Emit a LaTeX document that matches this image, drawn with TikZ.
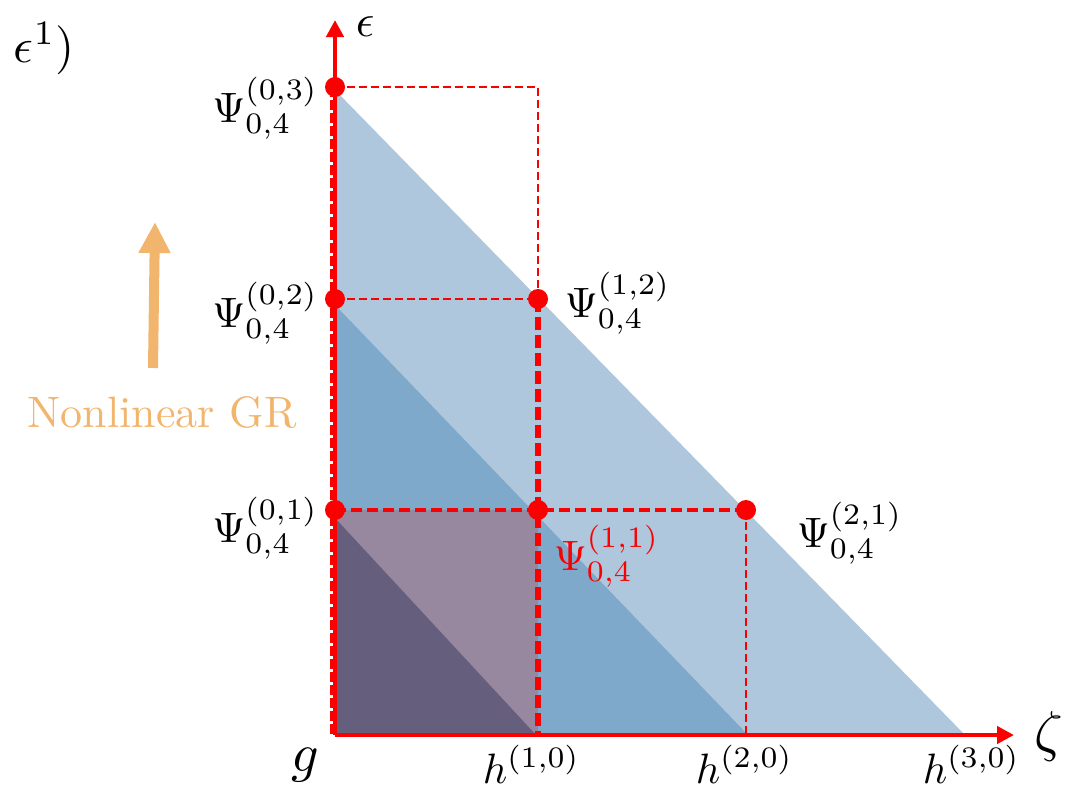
\documentclass[tikz,border=0pt]{standalone}
\usetikzlibrary{arrows.meta}
\definecolor{lightB}{RGB}{174,199,220}
\definecolor{midB}{RGB}{127,169,203}
\definecolor{purp}{RGB}{151,135,159}
\definecolor{darkP}{RGB}{102,94,125}
\definecolor{orng}{RGB}{242,181,110}
\definecolor{rd}{RGB}{250,0,0}
\begin{document}
\begin{tikzpicture}[x=1pt,y=-1pt,
  lbl/.style={inner sep=0pt, scale=4.25},
  big/.style={inner sep=0pt, scale=5.4},
  dot/.style={circle, fill=rd, inner sep=0pt, minimum size=20pt},
  axis/.style={rd, line width=4.5pt, -{Triangle[length=17pt,width=17pt]}},
  thindash/.style={rd, line width=2.5pt, dash pattern=on 8pt off 4pt},
  meddash/.style={rd, line width=3.5pt, dash pattern=on 11pt off 5pt},
  thickdash/.style={rd, line width=5.5pt, dash pattern=on 13pt off 5pt}]
\useasboundingbox (0,0) rectangle (1081,790);
% grid coordinates
\coordinate (O) at (335,735);
\coordinate (p03) at (335,87);
\coordinate (p02) at (335,299);
\coordinate (p01) at (335,510);
\coordinate (p12) at (538,299);
\coordinate (p11) at (538,510);
\coordinate (p21) at (746,510);
\coordinate (t13) at (538,87);
\coordinate (b10) at (538,735);
\coordinate (b20) at (746,735);
\coordinate (xend) at (1014,735);
\coordinate (yend) at (335,20);
% filled regions
\fill[lightB] (335,90) -- (965,735) -- (335,735) -- cycle;
\fill[midB] (335,305) -- (748,735) -- (335,735) -- cycle;
\fill[purp] (335,510) rectangle (538,735);
\fill[darkP] (335,518) -- (536,735) -- (335,735) -- cycle;
% dashed guide lines
\draw[thindash] (p03) -- (t13) -- (p12);
\draw[thindash] (p02) -- (p12);
\draw[thickdash] (p12) -- (b10);
\draw[meddash] (p01) -- (p21);
\draw[thindash] (p21) -- (b20);
\draw[rd, line width=3pt, dash pattern=on 10pt off 3pt] (331.5,87) -- (331.5,735);
% axes
\draw[axis] (O) -- (xend);
\draw[axis] (O) -- (yend);
% dots
\node[dot] (d03) at (p03) {};
\node[dot] (d02) at (p02) {};
\node[dot] (d01) at (p01) {};
\node[dot] (d12) at (p12) {};
\node[dot] (d11) at (p11) {};
\node[dot] (d21) at (p21) {};
% labels
\node[lbl, anchor=base east] (L03) at (319,122) {$\Psi^{(0,3)}_{0,4}$};
\node[lbl, anchor=base east] (L02) at (319,327) {$\Psi^{(0,2)}_{0,4}$};
\node[lbl, anchor=base east] (L01) at (319,542) {$\Psi^{(0,1)}_{0,4}$};
\node[lbl, anchor=base west] (L12) at (564,317) {$\Psi^{(1,2)}_{0,4}$};
\node[lbl, anchor=base west, text=rd] (L11) at (553,570) {$\Psi^{(1,1)}_{0,4}$};
\node[lbl, anchor=base west] (L21) at (796,547) {$\Psi^{(2,1)}_{0,4}$};
\node[big, anchor=base west] (g) at (290,771) {$g$};
\node[lbl, anchor=base west] (h10) at (482,783) {$h^{(1,0)}$};
\node[lbl, anchor=base west] (h20) at (695,783) {$h^{(2,0)}$};
\node[lbl, anchor=base west] (h30) at (922,783) {$h^{(3,0)}$};
\node[inner sep=0pt, scale=4.6, anchor=base west] (eps) at (355,36) {$\epsilon$};
\node[inner sep=0pt, scale=5.6, anchor=base west] (zeta) at (1033,750) {$\zeta$};
\node[inner sep=0pt, scale=4.9, anchor=base west] (eps1) at (13,62) {$\epsilon^1)$};
% nonlinear GR arrow and text
\coordinate (ga) at (153,368);
\coordinate (gb) at (155,222);
\draw[orng, line width=10pt, -{Triangle[length=31pt,width=30pt]}] (ga) -- (gb);
\node[inner sep=0pt, scale=4.4, anchor=base west, text=orng] (ngr) at (27,427) {Nonlinear GR};
\end{tikzpicture}
\end{document}
